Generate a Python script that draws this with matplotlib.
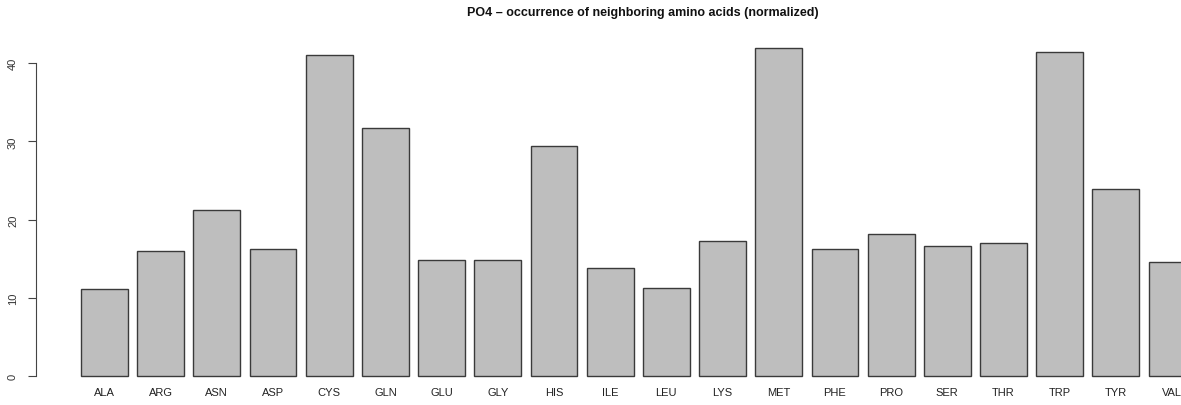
import matplotlib.pyplot as plt

plt.rcParams['font.family'] = ['Liberation Sans', 'DejaVu Sans']

residues = ['ALA', 'ARG', 'ASN', 'ASP', 'CYS', 'GLN', 'GLU', 'GLY', 'HIS', 'ILE',
            'LEU', 'LYS', 'MET', 'PHE', 'PRO', 'SER', 'THR', 'TRP', 'TYR', 'VAL']
occurrence = [11.1, 16.0, 21.2, 16.2, 41.0, 31.7, 14.8, 14.8, 29.4, 13.8,
              11.2, 17.3, 41.9, 16.2, 18.1, 16.6, 17.0, 41.4, 23.9, 14.6]
y_ticks = [0, 10, 20, 30, 40]

# R-style barplot layout: width 1, space 0.2
lefts = [0.2 + 1.2 * i for i in range(len(residues))]
centers = [l + 0.5 for l in lefts]

fig = plt.figure(figsize=(11.81, 4.06), dpi=100)
ax = fig.add_axes([0, 0, 1, 1])
ax.bar(lefts, occurrence, width=1.0, align='edge', color='#bebebe',
       edgecolor='#3a3a3a', linewidth=1.0)

ax.set_xlim(-1.53, 23.69)
ax.set_ylim(-3.71, 48.2)

for side in ['top', 'right', 'bottom']:
    ax.spines[side].set_visible(False)
ax.spines['left'].set_position(('data', -0.76))
ax.spines['left'].set_bounds(0, 40)
ax.spines['left'].set_color('#444444')
ax.set_yticks(y_ticks)
ax.set_yticklabels([str(t) for t in y_ticks], rotation=90, va='center',
                   fontsize=8, color='#333333')
ax.tick_params(axis='y', length=6, width=0.8, color='#444444', pad=7)

ax.set_xticks([])
for x, name in zip(centers, residues):
    ax.text(x, -2.05, name, ha='center', va='center', fontsize=8, color='#222222')

ax.text(12.2, 46.55, 'PO4 \u2013 occurrence of neighboring amino acids (normalized)',
        ha='center', va='center', fontsize=9, fontweight='bold', color='#111111')

fig.savefig('out.png', dpi=100)
